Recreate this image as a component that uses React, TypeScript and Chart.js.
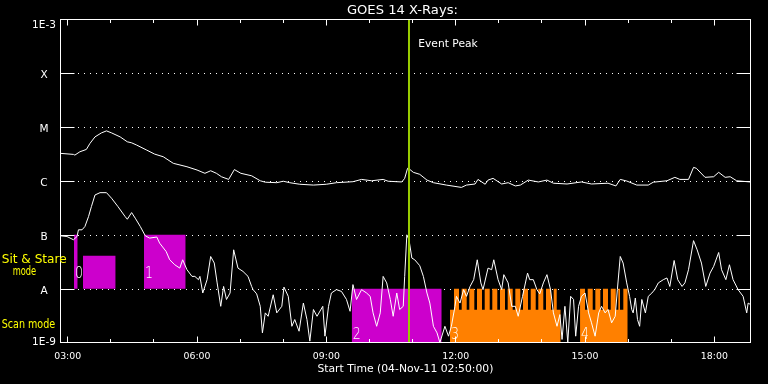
import React, { useEffect, useRef } from "react";
import { Chart, registerables } from "chart.js";

Chart.register(...registerables);

// ---------- text & axes ----------
const TITLE = "GOES 14 X-Rays:";
const X_TITLE = "Start Time (04-Nov-11 02:50:00)";
const START_TIME = "02:50";
const END_TIME = "18:50";
const HOUR_TICKS = ["03:00", "04:00", "05:00", "06:00", "07:00", "08:00", "09:00", "10:00",
  "11:00", "12:00", "13:00", "14:00", "15:00", "16:00", "17:00", "18:00"];
const HOUR_LABELS = ["03:00", "06:00", "09:00", "12:00", "15:00", "18:00"];
const FLUX_TICKS = [1e-3, 1e-4, 1e-5, 1e-6, 1e-7, 1e-8, 1e-9];
const FLUX_LABELS = ["1E-3", "X", "M", "C", "B", "A", "1E-9"];
const GRID_FLUX = [1e-4, 1e-5, 1e-6, 1e-7, 1e-8];
const EVENT_PEAK = "10:55";
const EVENT_LABEL = "Event Peak";
const SIT_STARE_TEXT = ["Sit & Stare", "mode"];
const SCAN_TEXT = "Scan mode";

// ---------- GOES long channel (1-8 A) ----------
const longTimes = [
  "02:50", "03:08", "03:10", "03:17", "03:26", "03:31", "03:38", "03:47", "03:54", "04:01",
  "04:13", "04:23", "04:29", "04:36", "04:50", "05:01", "05:13", "05:27", "05:46", "06:00",
  "06:11", "06:19", "06:27", "06:34", "06:44", "06:52", "07:01", "07:16", "07:28", "07:35",
  "07:51", "08:00", "08:09", "08:23", "08:42", "09:00", "09:14", "09:37", "09:49", "10:03",
  "10:19", "10:26", "10:45", "10:49", "10:53", "10:56", "11:01", "11:10", "11:20", "11:29",
  "11:47", "12:08", "12:15", "12:27", "12:31", "12:41", "12:45", "12:52", "13:04", "13:13",
  "13:23", "13:30", "13:41", "13:55", "14:07", "14:16", "14:35", "14:55", "15:09", "15:32",
  "15:43", "15:49", "15:58", "16:12", "16:28", "16:35", "16:54", "17:05", "17:12", "17:24",
  "17:31", "17:35", "17:47", "17:59", "18:06", "18:15", "18:22", "18:31", "18:50",
];
const longFlux = [
  3.26e-6, 3.12e-6, 3.03e-6, 3.49e-6, 3.86e-6, 4.99e-6, 6.6e-6, 7.83e-6, 8.53e-6, 7.83e-6,
  6.6e-6, 5.35e-6, 5.12e-6, 4.65e-6, 3.75e-6, 3.16e-6, 2.82e-6, 2.13e-6, 1.84e-6, 1.6e-6,
  1.39e-6, 1.55e-6, 1.39e-6, 1.2e-6, 1.07e-6, 1.63e-6, 1.39e-6, 1.25e-6, 1.01e-6, 9.5e-7,
  9.3e-7, 9.9e-7, 9.3e-7, 8.7e-7, 8.4e-7, 8.7e-7, 9.3e-7, 9.7e-7, 1.07e-6, 1.01e-6,
  1.07e-6, 9.9e-7, 9.6e-7, 1.12e-6, 1.72e-6, 1.65e-6, 1.45e-6, 1.33e-6, 1.04e-6, 9.3e-7,
  8.4e-7, 7.6e-7, 8.4e-7, 8.8e-7, 1.07e-6, 8.7e-7, 1.04e-6, 1.12e-6, 8.8e-7, 9.3e-7,
  8.1e-7, 8.4e-7, 1.04e-6, 9.6e-7, 1.04e-6, 9.1e-7, 8.8e-7, 9.6e-7, 8.8e-7, 9.1e-7,
  8.1e-7, 1.07e-6, 1.0e-6, 8.4e-7, 8.4e-7, 9.5e-7, 1.01e-6, 1.17e-6, 1.07e-6, 1.07e-6,
  1.79e-6, 1.72e-6, 1.17e-6, 1.2e-6, 1.45e-6, 1.17e-6, 1.2e-6, 1.01e-6, 9.6e-7,
];

// ---------- GOES short channel (0.5-4 A) ----------
const shortTimes = [
  "02:50", "02:59", "03:08", "03:13", "03:15", "03:20", "03:24", "03:29", "03:33", "03:38",
  "03:45", "03:54", "04:01", "04:10", "04:20", "04:23", "04:29", "04:34", "04:41", "04:48",
  "04:54", "05:04", "05:08", "05:17", "05:22", "05:29", "05:36", "05:40", "05:46", "05:53",
  "05:57", "06:02", "06:04", "06:08", "06:14", "06:19", "06:24", "06:28", "06:33", "06:37",
  "06:41", "06:46", "06:51", "06:57", "07:04", "07:11", "07:16", "07:18", "07:23", "07:28",
  "07:31", "07:35", "07:39", "07:46", "07:51", "07:58", "08:01", "08:07", "08:12", "08:16",
  "08:22", "08:28", "08:33", "08:37", "08:42", "08:47", "08:55", "08:58", "09:03", "09:07",
  "09:14", "09:21", "09:28", "09:33", "09:37", "09:42", "09:49", "09:56", "10:01", "10:05",
  "10:10", "10:15", "10:19", "10:24", "10:29", "10:33", "10:38", "10:42", "10:47", "10:49",
  "10:52", "10:55", "10:59", "11:03", "11:10", "11:15", "11:20", "11:24", "11:29", "11:34",
  "11:38", "11:45", "11:50", "11:54", "11:59", "12:01", "12:06", "12:11", "12:15", "12:20",
  "12:25", "12:30", "12:35", "12:38", "12:45", "12:50", "12:53", "12:59", "13:04", "13:07",
  "13:13", "13:18", "13:23", "13:27", "13:33", "13:40", "13:43", "13:48", "13:53", "13:57",
  "14:02", "14:07", "14:12", "14:16", "14:21", "14:25", "14:28", "14:32", "14:36", "14:40",
  "14:44", "14:47", "14:51", "14:55", "15:00", "15:05", "15:09", "15:14", "15:19", "15:23",
  "15:28", "15:32", "15:37", "15:42", "15:45", "15:49", "15:53", "15:58", "16:02", "16:05",
  "16:07", "16:10", "16:13", "16:16", "16:19", "16:24", "16:28", "16:33", "16:37", "16:42",
  "16:49", "16:54", "16:58", "17:04", "17:09", "17:15", "17:19", "17:24", "17:31", "17:36",
  "17:42", "17:48", "17:54", "17:59", "18:06", "18:10", "18:16", "18:21", "18:26", "18:33",
  "18:40", "18:45", "18:47", "18:50",
];
const shortFlux = [
  9.6e-8, 9.3e-8, 8.1e-8, 9.3e-8, 1.24e-7, 1.24e-7, 1.43e-7, 2.18e-7, 3.34e-7, 5.5e-7,
  6.07e-7, 6.07e-7, 4.79e-7, 3.34e-7, 2.18e-7, 1.95e-7, 2.59e-7, 2.04e-7, 1.43e-7, 9.6e-8,
  8.7e-8, 9.1e-8, 7.0e-8, 4.9e-8, 3.44e-8, 2.78e-8, 2.41e-8, 3.44e-8, 2.25e-8, 1.69e-8,
  1.69e-8, 1.47e-8, 1.69e-8, 8.3e-9, 1.47e-8, 3.96e-8, 2.99e-8, 1.28e-8, 4.7e-9, 1.1e-8,
  6.3e-9, 8.3e-9, 5.27e-8, 2.41e-8, 2.09e-8, 1.69e-8, 1.1e-8, 9.6e-9, 8.0e-9, 4.7e-9,
  1.51e-9, 3.55e-9, 3.07e-9, 7.7e-9, 3.55e-9, 4.7e-9, 1.07e-8, 7.2e-9, 2.0e-9, 2.67e-9,
  1.62e-9, 5.4e-9, 2.67e-9, 1.06e-9, 4.1e-9, 3.07e-9, 4.7e-9, 1.31e-9, 4.7e-9, 8.3e-9,
  9.6e-9, 8.9e-9, 6.3e-9, 3.8e-9, 1.19e-8, 6.3e-9, 9.6e-9, 8.3e-9, 7.2e-9, 3.55e-9,
  2.0e-9, 3.55e-9, 1.69e-8, 1.28e-8, 6.3e-9, 3.07e-9, 8.3e-9, 4.1e-9, 4.7e-9, 1.69e-8,
  1.0e-7, 8.1e-8, 3.7e-8, 3.44e-8, 2.67e-8, 1.69e-8, 8.3e-9, 5.4e-9, 2.0e-9, 1.51e-9,
  1.0e-9, 2.0e-9, 1.31e-9, 2.0e-9, 4.7e-9, 7.2e-9, 5.4e-9, 9.6e-9, 7.2e-9, 1.1e-8,
  1.47e-8, 3.44e-8, 1.28e-8, 9.6e-9, 2.41e-8, 2.25e-8, 3.44e-8, 1.47e-8, 9.6e-9, 1.82e-8,
  1.28e-8, 4.7e-9, 4.7e-9, 3.07e-9, 7.2e-9, 1.95e-8, 1.47e-8, 1.47e-8, 9.6e-9, 8.0e-9,
  1.28e-8, 1.82e-8, 9.6e-9, 3.55e-9, 2.0e-9, 3.3e-9, 1.14e-9, 4.7e-9, 1.0e-9, 7.2e-9,
  6.3e-9, 1.31e-9, 4.7e-9, 7.2e-9, 8.3e-9, 3.55e-9, 2.32e-9, 1.31e-9, 3.55e-9, 4.7e-9,
  3.55e-9, 4.1e-9, 2.32e-9, 3.07e-9, 9.6e-9, 3.96e-8, 2.99e-8, 1.28e-8, 7.2e-9, 4.1e-9,
  3.55e-9, 6.7e-9, 2.67e-9, 2.0e-9, 6.3e-9, 3.55e-9, 7.2e-9, 8.3e-9, 9.6e-9, 1.28e-8,
  1.47e-8, 1.58e-8, 1.1e-8, 3.34e-8, 1.47e-8, 1.1e-8, 1.28e-8, 2.25e-8, 7.8e-8, 5.27e-8,
  2.99e-8, 1.1e-8, 1.95e-8, 2.59e-8, 4.7e-8, 2.25e-8, 1.47e-8, 2.78e-8, 1.47e-8, 9.6e-9,
  7.2e-9, 3.55e-9, 5.4e-9, 5.1e-9,
];

// ---------- observing modes (times in decimal hours) ----------
const SIT_STARE_FLOOR = 1e-8;
const sitStareStart = [3.146, 3.355, 4.770];
const sitStareEnd = [3.232, 4.113, 5.737];
const sitStareTop = [1e-7, 4.08e-8, 1e-7];

const SCAN_FLOOR = 1e-9;
const SCAN_TOP = 1e-8;
const SCAN_BASE = 4.08e-9;
const scanMagenta = [9.588, 11.676];
const scan3Span = [11.868, 14.436];
const scan3Teeth = [
  [11.961, 12.077], [12.139, 12.255], [12.316, 12.432], [12.494, 12.610], [12.673, 12.789],
  [12.849, 12.965], [13.028, 13.144], [13.206, 13.322], [13.383, 13.499], [13.561, 13.677],
  [13.740, 13.856], [13.916, 14.032], [14.095, 14.211], [14.273, 14.343],
];
const scan4Span = [14.884, 15.990];
const scan4Teeth = [
  [14.884, 15.000], [15.062, 15.178], [15.239, 15.355], [15.417, 15.533], [15.596, 15.712],
  [15.772, 15.811], [15.888, 15.990],
];

const modeLabels = ["0", "1", "2", "3", "4"];
const modeLabelTimes = [3.146, 4.770, 9.588, 11.868, 14.884];
const modeLabelFloor = [1e-8, 1e-8, 1e-9, 1e-9, 1e-9];

// ---------- colours ----------
const WHITE = "#ffffff";
const YELLOW = "#ffff00";
const MAGENTA = "#cc00cc";
const ORANGE = "#ff8000";
const PEAK_GREEN = "#99cc00";
const FONT = '"DejaVu Sans", sans-serif';

const toHours = (s: string) => {
  const [h, m] = s.split(":").map(Number);
  return h + m / 60;
};

const rectPoints = (a: number, b: number, top: number, floor: number) => [
  { x: a, y: floor }, { x: a, y: top }, { x: b, y: top }, { x: b, y: floor },
];

const combPoints = (span: number[], teeth: number[][], base: number, top: number, floor: number) => {
  const pts: any[] = [{ x: span[0], y: floor }, { x: span[0], y: base }];
  for (const [a, b] of teeth) {
    pts.push({ x: a, y: base }, { x: a, y: top }, { x: b, y: top }, { x: b, y: base });
  }
  pts.push({ x: span[1], y: base }, { x: span[1], y: floor });
  return pts;
};

function drawText(ctx: any, s: string, x: number, y: number, size: number, color: string,
  opts: { width?: number; align?: string; weight?: string } = {}) {
  ctx.save();
  ctx.font = `${opts.weight || "normal"} ${size}px ${FONT}`;
  ctx.fillStyle = color;
  ctx.textAlign = "left";
  ctx.textBaseline = "alphabetic";
  const w = ctx.measureText(s).width;
  const sx = opts.width ? opts.width / w : 1;
  const tw = w * sx;
  const left = opts.align === "center" ? x - tw / 2 : opts.align === "right" ? x - tw : x;
  ctx.translate(left, y);
  ctx.scale(sx, 1);
  ctx.fillText(s, 0, 0);
  ctx.restore();
}

const overlayPlugin = {
  id: "goesOverlay",
  beforeDatasetsDraw(chart: any) {
    const { ctx, chartArea: a, scales } = chart;
    const y = scales.y;
    ctx.save();
    ctx.strokeStyle = WHITE;
    ctx.lineWidth = 1;
    ctx.setLineDash([1, 5]);
    for (const v of GRID_FLUX) {
      const py = Math.round(y.getPixelForValue(v)) + 0.5;
      ctx.beginPath();
      ctx.moveTo(Math.floor(a.left) + 18, py);
      ctx.lineTo(Math.floor(a.right) - 14, py);
      ctx.stroke();
    }
    ctx.restore();
  },
  afterDatasetsDraw(chart: any) {
    const { ctx, chartArea: a, scales } = chart;
    const x = scales.x;
    const y = scales.y;
    const L = Math.floor(a.left) + 0.5;
    const R = Math.floor(a.right) + 0.5;
    const T = Math.floor(a.top) + 0.5;
    const B = Math.floor(a.bottom) + 0.5;
    ctx.save();
    ctx.strokeStyle = WHITE;
    ctx.lineWidth = 1;
    ctx.setLineDash([]);
    ctx.strokeRect(L, T, R - L, B - T);
    ctx.beginPath();
    for (const v of GRID_FLUX) {
      const py = Math.round(y.getPixelForValue(v)) + 0.5;
      ctx.moveTo(L, py); ctx.lineTo(L + 14, py);
      ctx.moveTo(R - 14, py); ctx.lineTo(R, py);
    }
    for (const t of HOUR_TICKS) {
      const px = Math.floor(x.getPixelForValue(toHours(t))) + 0.5;
      const len = HOUR_LABELS.includes(t) ? 6 : 3.5;
      ctx.moveTo(px, T); ctx.lineTo(px, T + len);
      ctx.moveTo(px, B); ctx.lineTo(px, B - len);
    }
    ctx.stroke();
    ctx.restore();

    // mode numbers
    modeLabels.forEach((s, i) => {
      const px = x.getPixelForValue(modeLabelTimes[i]);
      const py = y.getPixelForValue(modeLabelFloor[i]);
      const base = modeLabelFloor[i] === SIT_STARE_FLOOR ? py - 11 : py - 3.5;
      drawText(ctx, s, px + 1, base, 15, WHITE, { width: 8, weight: "200" });
    });

    // event peak label
    const ex = x.getPixelForValue(toHours(EVENT_PEAK));
    drawText(ctx, EVENT_LABEL, ex + 9.3, a.top + 27.2, 10.5, WHITE, { width: 59.4 });
  },
  afterDraw(chart: any) {
    const { ctx, chartArea: a, scales } = chart;
    const x = scales.x;
    const y = scales.y;
    drawText(ctx, TITLE, (a.left + a.right) / 2 - 3, 14, 13, WHITE, { width: 111, align: "center" });
    drawText(ctx, X_TITLE, (a.left + a.right) / 2, 372, 10.5, WHITE, { width: 176, align: "center" });
    for (const t of HOUR_LABELS) {
      const px = x.getPixelForValue(toHours(t));
      drawText(ctx, t, px, 359, 9.5, WHITE, { width: 27, align: "center" });
    }
    FLUX_TICKS.forEach((v, i) => {
      const py = Math.round(y.getPixelForValue(v));
      let base = py + 4.5;
      if (i === 0) base = py + 7.7;
      if (i === FLUX_TICKS.length - 1) base = py + 2;
      drawText(ctx, FLUX_LABELS[i], 44, base, 10.5, WHITE, { align: "center" });
    });
    drawText(ctx, SIT_STARE_TEXT[0], 1.7, 263.3, 12, YELLOW, { width: 65 });
    drawText(ctx, SIT_STARE_TEXT[1], 12.7, 274.5, 12, YELLOW, { width: 23.5 });
    drawText(ctx, SCAN_TEXT, 1.7, 327.7, 12, YELLOW, { width: 53.5 });
  },
};

export default function App() {
  const canvasRef = useRef<HTMLCanvasElement | null>(null);

  useEffect(() => {
    const canvas = canvasRef.current;
    if (!canvas) return;

    const areaDs = (data: any[], color: string, floor: number) => ({
      data,
      borderColor: "rgba(0,0,0,0)",
      borderWidth: 0,
      backgroundColor: color,
      fill: { value: floor },
      pointRadius: 0,
      tension: 0,
    });

    const peak = toHours(EVENT_PEAK);

    const datasets: any[] = [
      {
        data: [{ x: peak, y: FLUX_TICKS[FLUX_TICKS.length - 1] }, { x: peak, y: FLUX_TICKS[0] }],
        borderColor: PEAK_GREEN, borderWidth: 2, pointRadius: 0, fill: false,
      },
      {
        data: longTimes.map((t, i) => ({ x: toHours(t), y: longFlux[i] })),
        borderColor: WHITE, borderWidth: 1, pointRadius: 0, fill: false, tension: 0,
      },
      {
        data: shortTimes.map((t, i) => ({ x: toHours(t), y: shortFlux[i] })),
        borderColor: WHITE, borderWidth: 1, pointRadius: 0, fill: false, tension: 0,
      },
      ...sitStareStart.map((s, i) =>
        areaDs(rectPoints(s, sitStareEnd[i], sitStareTop[i], SIT_STARE_FLOOR), MAGENTA, SIT_STARE_FLOOR)),
      areaDs(rectPoints(scanMagenta[0], scanMagenta[1], SCAN_TOP, SCAN_FLOOR), MAGENTA, SCAN_FLOOR),
      areaDs(combPoints(scan3Span, scan3Teeth, SCAN_BASE, SCAN_TOP, SCAN_FLOOR), ORANGE, SCAN_FLOOR),
      areaDs(combPoints(scan4Span, scan4Teeth, SCAN_BASE, SCAN_TOP, SCAN_FLOOR), ORANGE, SCAN_FLOOR),
    ];

    const chart = new Chart(canvas, {
      type: "line",
      data: { datasets },
      options: {
        animation: false,
        responsive: false,
        devicePixelRatio: 1,
        events: [],
        parsing: true,
        layout: { padding: { left: 60.5, right: 17.7, top: 19.5, bottom: 41.5 } },
        scales: {
          x: { type: "linear", min: toHours(START_TIME), max: toHours(END_TIME), display: false },
          y: { type: "logarithmic", min: FLUX_TICKS[FLUX_TICKS.length - 1], max: FLUX_TICKS[0], display: false },
        },
        plugins: {
          legend: { display: false },
          tooltip: { enabled: false },
          title: { display: false },
        },
        elements: { point: { radius: 0 }, line: { tension: 0 } },
      },
      plugins: [overlayPlugin],
    } as any);

    return () => chart.destroy();
  }, []);

  return (
    <div style={{ position: "fixed", left: 0, top: 0, width: 768, height: 384, background: "#000" }}>
      <canvas ref={canvasRef} width={768} height={384} style={{ display: "block", width: 768, height: 384 }} />
    </div>
  );
}
